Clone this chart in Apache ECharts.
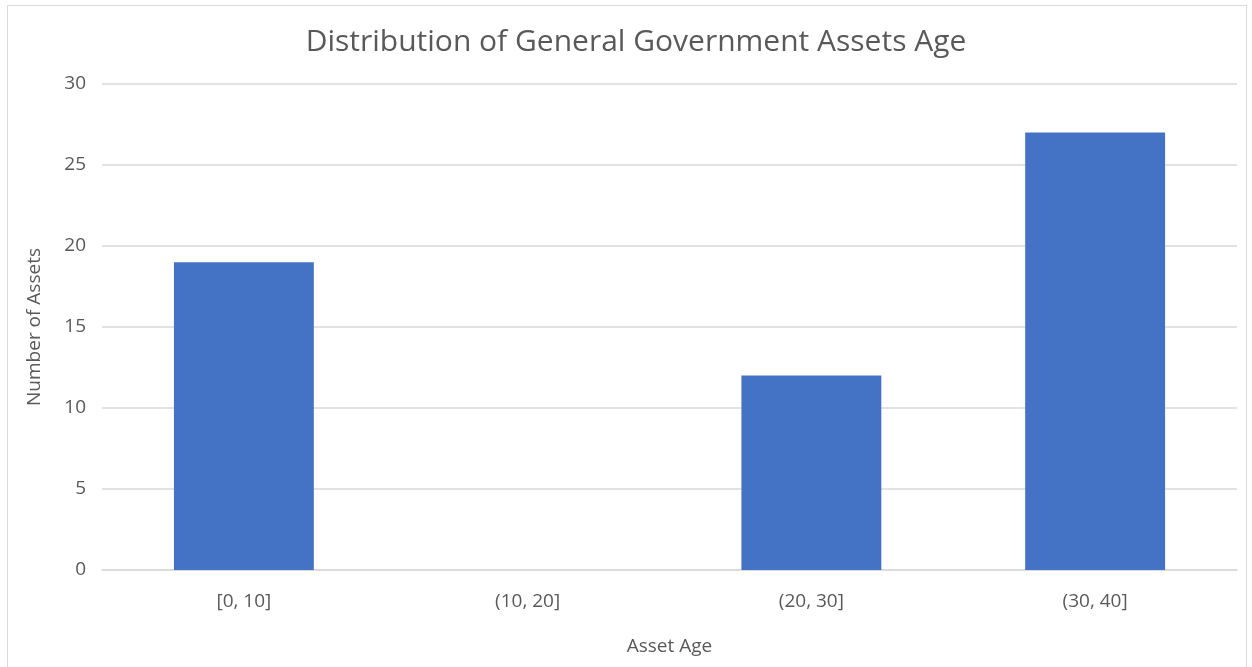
<!DOCTYPE html>
<html>
<head>
<meta charset="utf-8">
<script src="https://cdn.jsdelivr.net/npm/echarts@6/dist/echarts.min.js"></script>
<style>
html,body{margin:0;padding:0;background:#fff;}
#frame{position:absolute;left:7px;top:5px;width:1240px;height:680px;border:1px solid #d9d9d9;box-sizing:border-box;}
#chart{position:absolute;left:0;top:0;width:1252px;height:667px;}
</style>
</head>
<body>
<div id="frame"></div>
<div id="chart"></div>
<script>
const categories = ['[0, 10]', '(10, 20]', '(20, 30]', '(30, 40]'];
const assetCounts = [19, 0, 12, 27];
const yTicks = { min: 0, max: 30, interval: 5 };

const font = '"Open Sans", "Liberation Sans", sans-serif';
const chart = echarts.init(document.getElementById('chart'));
chart.setOption({
  animation: false,
  title: {
    text: 'Distribution of General Government Assets Age',
    left: 631, top: 22, textAlign: 'center',
    textStyle: { fontFamily: font, fontSize: 30, fontWeight: 'normal', color: '#595959' }
  },
  grid: { left: 102, right: 15, top: 84, bottom: 97 },
  xAxis: {
    type: 'category',
    data: categories,
    name: 'Asset Age',
    nameLocation: 'middle',
    nameGap: 67,
    nameTextStyle: { fontFamily: font, fontSize: 19, color: '#595959' },
    axisLine: { lineStyle: { color: '#d9d9d9', width: 1.5 } },
    axisTick: { show: false },
    axisLabel: { fontFamily: font, fontSize: 19, color: '#595959', margin: 22 }
  },
  yAxis: {
    type: 'value',
    min: yTicks.min, max: yTicks.max, interval: yTicks.interval,
    name: 'Number of Assets',
    nameLocation: 'middle',
    nameGap: 58,
    nameTextStyle: { fontFamily: font, fontSize: 19, color: '#595959' },
    axisLine: { show: false },
    axisTick: { show: false },
    axisLabel: { fontFamily: font, fontSize: 19, color: '#595959', margin: 16 },
    splitLine: { lineStyle: { color: '#d9d9d9', width: 1.5 } }
  },
  series: [{
    type: 'bar',
    data: assetCounts,
    barWidth: '49.3%',
    itemStyle: { color: '#4472C4' }
  }]
});
</script>
</body>
</html>
